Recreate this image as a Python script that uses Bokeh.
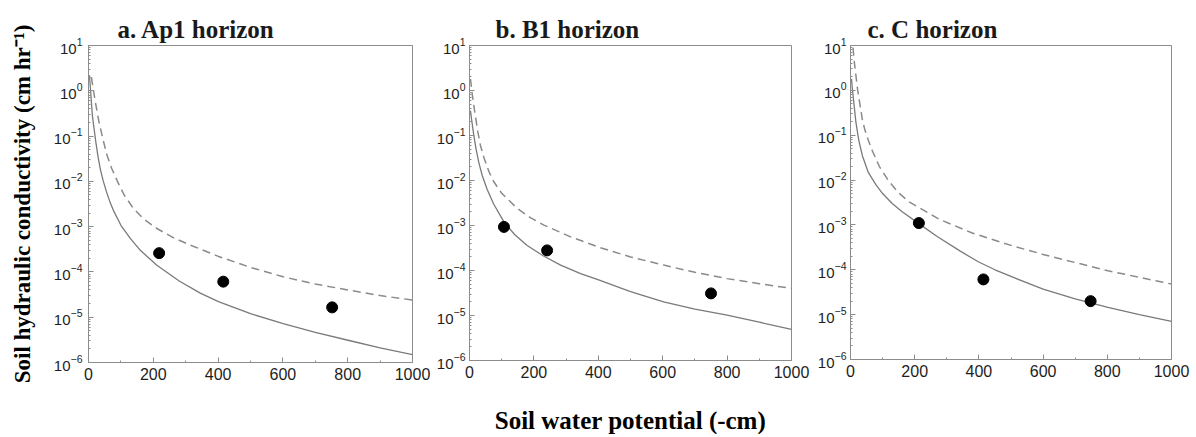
from bokeh.plotting import figure
from bokeh.layouts import row
from bokeh.models import Range1d, FixedTicker, LogTicker
from bokeh.embed import file_html
from bokeh.resources import INLINE

# ---------------- data ----------------
titles = ["a. Ap1 horizon", "b. B1 horizon", "c. C horizon"]
x_label = "Soil water potential (-cm)"
y_label = "Soil hydraulic conductivity (cm hr\u207b\u00b9)"
x_ticks = [0, 200, 400, 600, 800, 1000]
x_minor = [100, 300, 500, 700, 900]

# Panel a: Ap1 horizon
a_solid_x = [3, 6, 12, 22, 30, 37, 45, 55, 65, 78, 100, 129, 160, 211, 280, 345, 401, 500, 601,
             700, 801, 900, 1000]
a_solid_y = [2.2, 1.1, 0.28, 0.079, 0.033, 0.018, 0.0105, 6.0e-3, 3.7e-3, 2.2e-3, 1.07e-3, 5.5e-4,
             3.0e-4, 1.4e-4, 6.3e-5, 3.4e-5, 2.2e-5, 1.2e-5, 7.2e-6, 4.6e-6, 3.1e-6, 2.1e-6, 1.5e-6]
a_dash_x = [9, 11, 20, 32, 45, 57, 72, 88, 110, 139, 170, 211, 260, 314, 345, 401, 500, 601, 700,
            801, 900, 1000]
a_dash_y = [2.0, 1.6, 0.63, 0.21, 0.083, 0.038, 0.019, 0.0105, 5.0e-3, 2.5e-3, 1.48e-3, 9.1e-4,
            5.8e-4, 3.9e-4, 3.2e-4, 2.2e-4, 1.26e-4, 7.8e-5, 5.4e-5, 4.0e-5, 3.0e-5, 2.4e-5]
a_obs_x = [218, 416, 752]
a_obs_y = [2.6e-4, 6.1e-5, 1.65e-5]

# Panel b: B1 horizon
b_solid_x = [3, 6, 13, 20, 29, 40, 55, 75, 107, 140, 179, 230, 283, 345, 401, 500, 603, 700, 800,
             900, 1000]
b_solid_y = [0.355, 0.24, 0.105, 0.052, 0.025, 0.0126, 6.3e-3, 3.0e-3, 1.2e-3, 6.3e-4, 3.6e-4,
             2.1e-4, 1.32e-4, 8.5e-5, 6.2e-5, 3.4e-5, 2.0e-5, 1.38e-5, 1.02e-5, 7.1e-6, 4.9e-6]
b_dash_x = [3, 8, 13, 19, 26, 34, 45, 60, 75, 100, 148, 190, 231, 314, 401, 500, 603, 700, 800,
            900, 1000]
b_dash_y = [1.8, 0.89, 0.48, 0.25, 0.12, 0.06, 0.032, 0.016, 9.5e-3, 5.2e-3, 2.4e-3, 1.48e-3,
            1.02e-3, 5.6e-4, 3.3e-4, 2.0e-4, 1.32e-4, 9.1e-5, 6.6e-5, 5.1e-5, 4.0e-5]
b_obs_x = [107, 241, 750]
b_obs_y = [9.3e-4, 2.8e-4, 3.1e-5]

# Panel c: C horizon
c_solid_x = [3, 6, 17, 26, 37, 55, 79, 100, 130, 160, 213, 270, 342, 398, 450, 500, 600, 700, 802,
             900, 1000]
c_solid_y = [1.8, 1.05, 0.19, 0.076, 0.035, 0.0151, 7.9e-3, 5.0e-3, 3.0e-3, 2.0e-3, 1.07e-3,
             5.5e-4, 2.6e-4, 1.51e-4, 1.0e-4, 7.1e-5, 3.7e-5, 2.24e-5, 1.45e-5, 1.0e-5, 7.1e-6]
c_dash_x = [8, 11, 22, 37, 45, 55, 68, 90, 120, 150, 182, 275, 379, 500, 600, 700, 802, 900, 1000]
c_dash_y = [8.9, 4.9, 1.05, 0.22, 0.13, 0.079, 0.045, 0.02, 9.3e-3, 5.2e-3, 3.3e-3, 1.35e-3,
            6.6e-4, 3.5e-4, 2.2e-4, 1.45e-4, 9.5e-5, 6.8e-5, 4.8e-5]
c_obs_x = [213, 414, 748]
c_obs_y = [1.1e-3, 6.1e-5, 2.0e-5]

SERIF = "Liberation Serif"
SANS = "Liberation Sans"
LINE = "#7a7a7a"
FRAME = "#8c8c8c"


def panel(title, sx, sy, dx, dy, ox, oy, fw, fh, bl, br, bt, bb, toff,
          ylab=None, xlab=None):
    p = figure(frame_width=fw, frame_height=fh, x_range=Range1d(0, 1000),
               y_range=Range1d(1e-6, 10), y_axis_type="log",
               output_backend="svg", toolbar_location=None,
               min_border_left=bl, min_border_right=br,
               min_border_top=bt, min_border_bottom=bb,
               background_fill_color="white", border_fill_color="white")
    p.title.text = title
    p.title.align = "left"
    p.title.offset = toff
    p.title.standoff = 6
    p.title.text_font = SERIF
    p.title.text_font_style = "bold"
    p.title.text_font_size = "25px"
    p.title.text_color = "#1a1a1a"

    p.xgrid.grid_line_color = None
    p.ygrid.grid_line_color = None
    p.outline_line_color = FRAME
    p.outline_line_width = 1

    xa = p.xaxis[0]
    xa.ticker = FixedTicker(ticks=x_ticks, minor_ticks=x_minor)
    ya = p.yaxis[0]
    ya.ticker = LogTicker(num_minor_ticks=10)
    for ax in (xa, ya):
        ax.axis_line_color = FRAME
        ax.major_tick_line_color = FRAME
        ax.minor_tick_line_color = FRAME
        ax.major_tick_in = 5
        ax.major_tick_out = 0
        ax.minor_tick_in = 2
        ax.minor_tick_out = 0
        ax.major_label_text_font = SANS
        ax.major_label_text_color = "#1e1e1e"
    xa.major_label_text_font_size = "16px"
    xa.major_label_standoff = 5
    ya.major_label_text_font_size = "15px"
    ya.major_label_standoff = 4

    if ylab:
        ya.major_label_standoff = 6
        ya.axis_label = ylab
        ya.axis_label_text_font = SERIF
        ya.axis_label_text_font_style = "bold"
        ya.axis_label_text_font_size = "23px"
        ya.axis_label_text_color = "black"
        ya.axis_label_standoff = 16
    if xlab:
        xa.axis_label = xlab
        xa.axis_label_text_font = SERIF
        xa.axis_label_text_font_style = "bold"
        xa.axis_label_text_font_size = "25px"
        xa.axis_label_text_color = "black"
        xa.axis_label_standoff = 26

    p.line(sx, sy, line_color=LINE, line_width=1.3)
    p.line(dx, dy, line_color="#8a8a8a", line_width=1.5, line_dash="8 5")
    p.scatter(ox, oy, size=11, color="black")
    return p


pa = panel(titles[0], a_solid_x, a_solid_y, a_dash_x, a_dash_y, a_obs_x, a_obs_y,
           fw=324, fh=317, bl=88, br=20, bt=38, bb=40, toff=29, ylab=y_label)
pb = panel(titles[1], b_solid_x, b_solid_y, b_dash_x, b_dash_y, b_obs_x, b_obs_y,
           fw=322, fh=315, bl=37, br=20, bt=43, bb=68, toff=26, xlab=x_label)
pc = panel(titles[2], c_solid_x, c_solid_y, c_dash_x, c_dash_y, c_obs_x, c_obs_y,
           fw=321, fh=314, bl=39, br=20, bt=45, bb=40, toff=17)

layout = row(pa, pb, pc)
open("out.html", "w").write(file_html(layout, INLINE))
